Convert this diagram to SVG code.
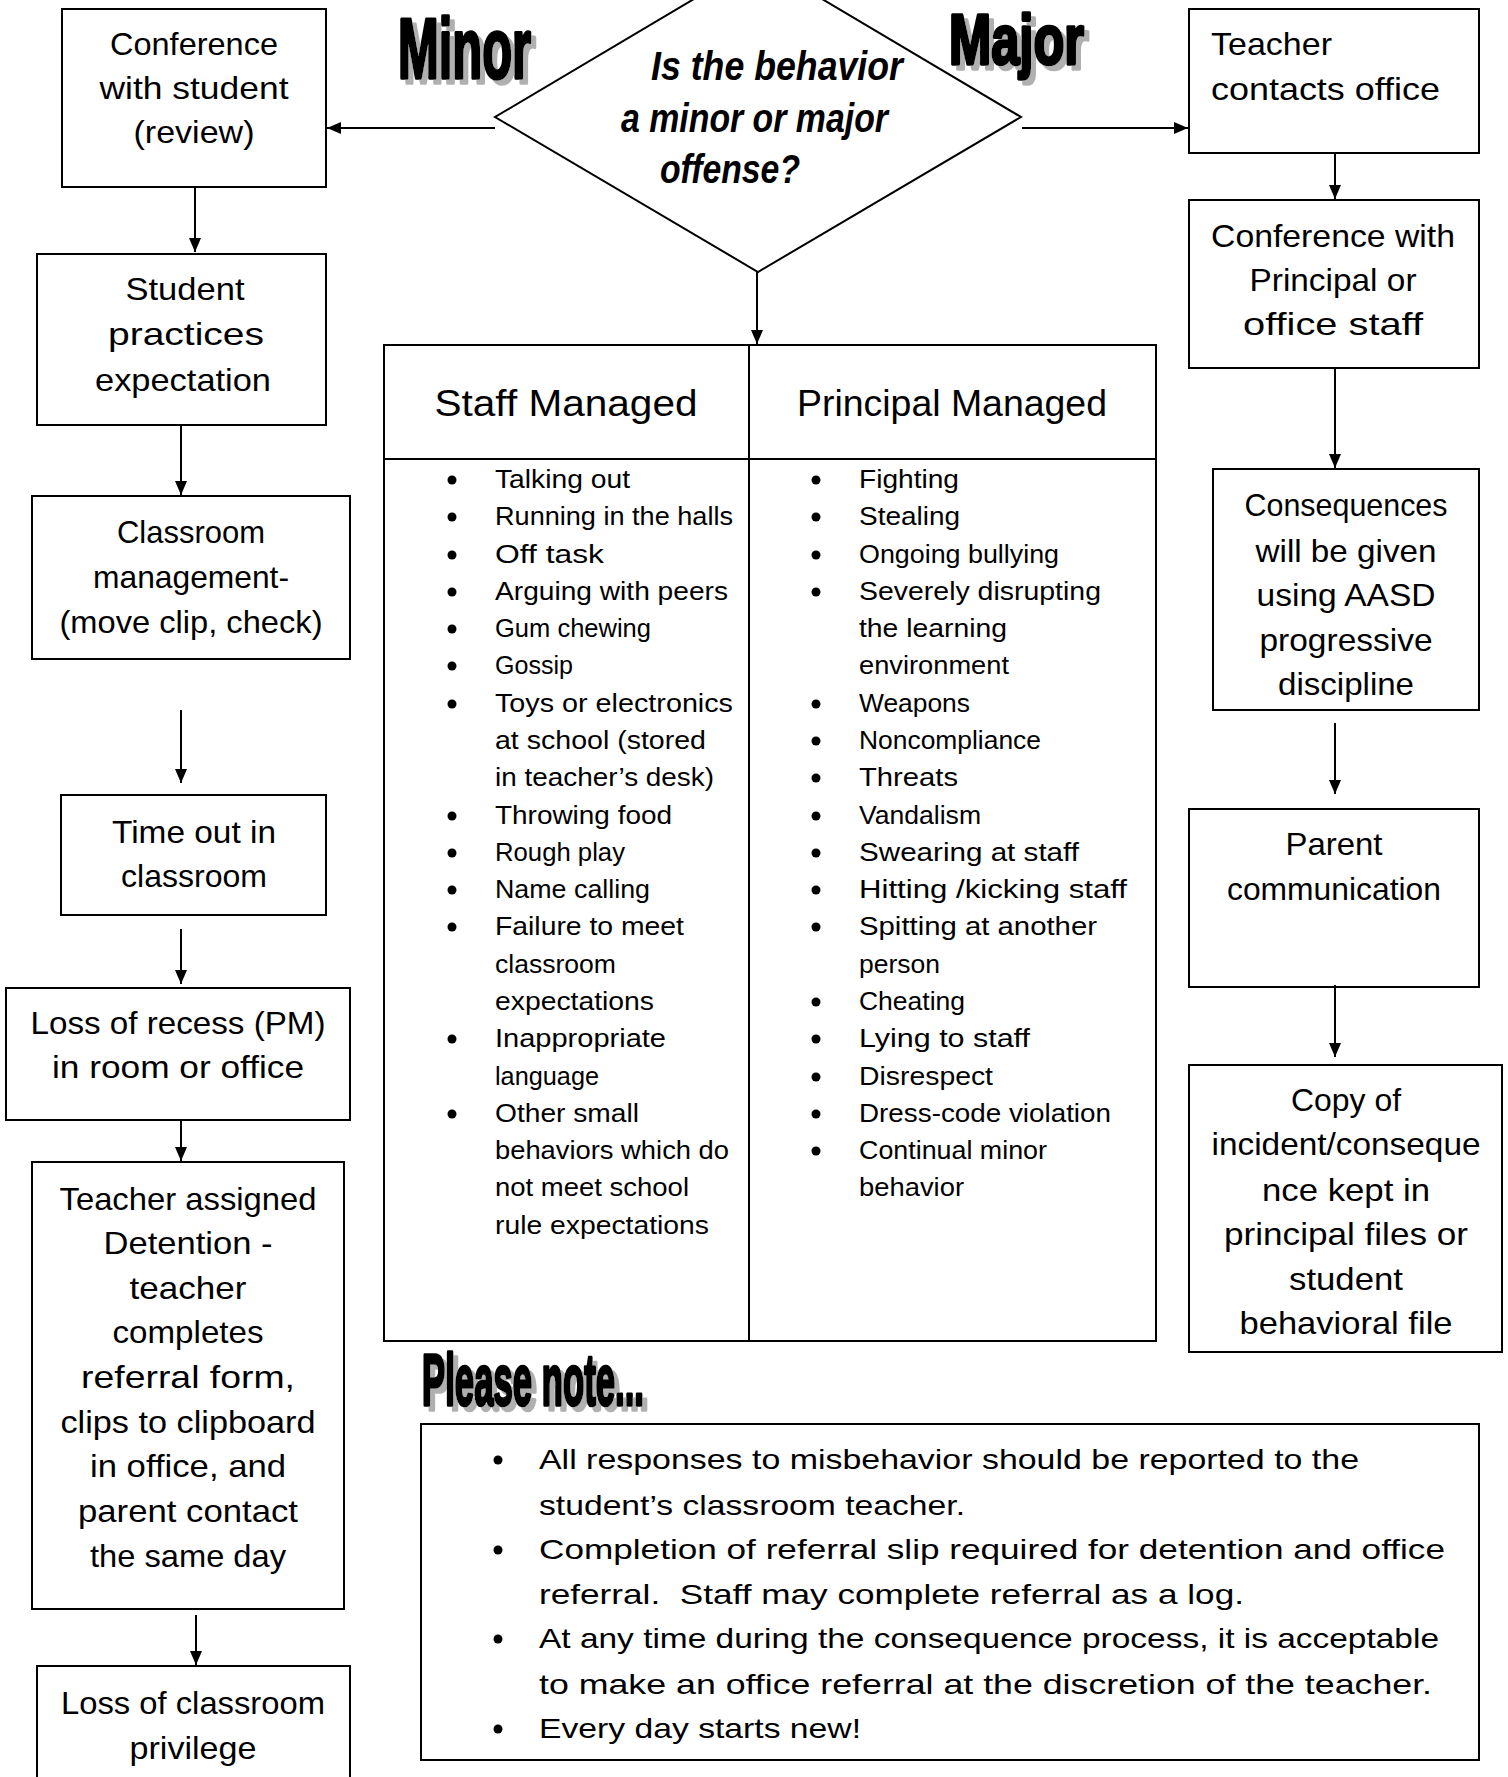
<svg xmlns="http://www.w3.org/2000/svg" width="1508" height="1777" viewBox="0 0 1508 1777">
<style>
.box{fill:#fff;stroke:#000;stroke-width:2}
.t{font-family:"Liberation Sans",Arial,sans-serif;fill:#000}
.c{text-anchor:middle}
.b32{font-size:32px}
.b25{font-size:25px}
.b28{font-size:28px}
.h36{font-size:36px}
.q{font-family:"Liberation Sans",Arial,sans-serif;font-size:40px;font-weight:bold;font-style:italic;fill:#000}
.ttl{font-family:"Liberation Sans",Arial,sans-serif;font-weight:bold;fill:#000;stroke:#000;stroke-width:3.5;stroke-linejoin:round;filter:url(#shadow)}
.con{stroke:#000;stroke-width:2;fill:none;marker-end:url(#ah)}
.dot{fill:#000}
</style>
<defs>
<marker id="ah" viewBox="0 0 14 12" markerWidth="14" markerHeight="12" markerUnits="userSpaceOnUse" refX="14" refY="6" orient="auto">
<path d="M0,0 L14,6 L0,12 z" fill="#000"/>
</marker>
<filter id="shadow" x="-10%" y="-10%" width="130%" height="140%">
<feOffset in="SourceAlpha" dx="5" dy="5" result="off"/>
<feFlood flood-color="#b0b0b0"/>
<feComposite in2="off" operator="in" result="sh"/>
<feMerge><feMergeNode in="sh"/><feMergeNode in="SourceGraphic"/></feMerge>
</filter>
</defs>
<rect width="1508" height="1777" fill="#fff"/>

<!-- titles -->
<g id="title-minor">
<text class="ttl" x="398" y="78" font-size="86" textLength="133" lengthAdjust="spacingAndGlyphs">Minor</text>
</g>
<g id="title-major">
<text class="ttl" x="949" y="64" font-size="70" textLength="135" lengthAdjust="spacingAndGlyphs">Major</text>
</g>
<g id="title-note">
<text class="ttl" x="422" y="1405" font-size="72" textLength="222" lengthAdjust="spacingAndGlyphs">Please note...</text>
</g>

<!-- decision -->
<g id="decision">
<polygon class="box" points="758,-39 1021,117 758,272 495,117"/>
<text class="q" x="651" y="80" textLength="252" lengthAdjust="spacingAndGlyphs">Is the behavior</text>
<text class="q" x="621" y="132" textLength="267" lengthAdjust="spacingAndGlyphs">a minor or major</text>
<text class="q" x="660" y="183" textLength="140" lengthAdjust="spacingAndGlyphs">offense?</text>
</g>

<!-- left column -->
<g id="conference-student">
<rect class="box" x="62" y="9" width="264" height="178"/>
<text class="t b32 c" x="194" y="55" textLength="168" lengthAdjust="spacingAndGlyphs">Conference</text>
<text class="t b32 c" x="194" y="99" textLength="189" lengthAdjust="spacingAndGlyphs">with student</text>
<text class="t b32 c" x="194" y="143" textLength="121" lengthAdjust="spacingAndGlyphs">(review)</text>
</g>
<g id="student-practices">
<rect class="box" x="37" y="254" width="289" height="171"/>
<text class="t b32 c" x="185" y="300" textLength="119" lengthAdjust="spacingAndGlyphs">Student</text>
<text class="t b32 c" x="186" y="345" textLength="156" lengthAdjust="spacingAndGlyphs">practices</text>
<text class="t b32 c" x="183" y="391" textLength="176" lengthAdjust="spacingAndGlyphs">expectation</text>
</g>
<g id="classroom-management">
<rect class="box" x="32" y="496" width="318" height="163"/>
<text class="t b32 c" x="191" y="543" textLength="148" lengthAdjust="spacingAndGlyphs">Classroom</text>
<text class="t b32 c" x="191" y="588" textLength="196" lengthAdjust="spacingAndGlyphs">management-</text>
<text class="t b32 c" x="191" y="633" textLength="263" lengthAdjust="spacingAndGlyphs">(move clip, check)</text>
</g>
<g id="time-out">
<rect class="box" x="61" y="795" width="265" height="120"/>
<text class="t b32 c" x="194" y="843" textLength="164" lengthAdjust="spacingAndGlyphs">Time out in</text>
<text class="t b32 c" x="194" y="887" textLength="146" lengthAdjust="spacingAndGlyphs">classroom</text>
</g>
<g id="loss-recess">
<rect class="box" x="6" y="988" width="344" height="132"/>
<text class="t b32 c" x="178" y="1034" textLength="295" lengthAdjust="spacingAndGlyphs">Loss of recess (PM)</text>
<text class="t b32 c" x="178" y="1078" textLength="252" lengthAdjust="spacingAndGlyphs">in room or office</text>
</g>
<g id="detention">
<rect class="box" x="32" y="1162" width="312" height="447"/>
<text class="t b32 c" x="188" y="1210" textLength="257" lengthAdjust="spacingAndGlyphs">Teacher assigned</text>
<text class="t b32 c" x="188" y="1254" textLength="169" lengthAdjust="spacingAndGlyphs">Detention -</text>
<text class="t b32 c" x="188" y="1299" textLength="117" lengthAdjust="spacingAndGlyphs">teacher</text>
<text class="t b32 c" x="188" y="1343" textLength="151" lengthAdjust="spacingAndGlyphs">completes</text>
<text class="t b32 c" x="188" y="1388" textLength="214" lengthAdjust="spacingAndGlyphs">referral form,</text>
<text class="t b32 c" x="188" y="1433" textLength="255" lengthAdjust="spacingAndGlyphs">clips to clipboard</text>
<text class="t b32 c" x="188" y="1477" textLength="196" lengthAdjust="spacingAndGlyphs">in office, and</text>
<text class="t b32 c" x="188" y="1522" textLength="220" lengthAdjust="spacingAndGlyphs">parent contact</text>
<text class="t b32 c" x="188" y="1567" textLength="196" lengthAdjust="spacingAndGlyphs">the same day</text>
</g>
<g id="loss-privilege">
<rect class="box" x="37" y="1666" width="313" height="130"/>
<text class="t b32 c" x="193" y="1714" textLength="264" lengthAdjust="spacingAndGlyphs">Loss of classroom</text>
<text class="t b32 c" x="193" y="1759" textLength="127" lengthAdjust="spacingAndGlyphs">privilege</text>
</g>

<!-- right column -->
<g id="teacher-contacts">
<rect class="box" x="1189" y="9" width="290" height="144"/>
<text class="t b32" x="1211" y="55" textLength="121" lengthAdjust="spacingAndGlyphs">Teacher</text>
<text class="t b32" x="1211" y="100" textLength="229" lengthAdjust="spacingAndGlyphs">contacts office</text>
</g>
<g id="conference-principal">
<rect class="box" x="1189" y="200" width="290" height="168"/>
<text class="t b32 c" x="1333" y="247" textLength="244" lengthAdjust="spacingAndGlyphs">Conference with</text>
<text class="t b32 c" x="1333" y="291" textLength="167" lengthAdjust="spacingAndGlyphs">Principal or</text>
<text class="t b32 c" x="1333" y="335" textLength="180" lengthAdjust="spacingAndGlyphs">office staff</text>
</g>
<g id="consequences">
<rect class="box" x="1213" y="469" width="266" height="241"/>
<text class="t b32 c" x="1346" y="516" textLength="203" lengthAdjust="spacingAndGlyphs">Consequences</text>
<text class="t b32 c" x="1346" y="562" textLength="181" lengthAdjust="spacingAndGlyphs">will be given</text>
<text class="t b32 c" x="1346" y="606" textLength="179" lengthAdjust="spacingAndGlyphs">using AASD</text>
<text class="t b32 c" x="1346" y="651" textLength="173" lengthAdjust="spacingAndGlyphs">progressive</text>
<text class="t b32 c" x="1346" y="695" textLength="136" lengthAdjust="spacingAndGlyphs">discipline</text>
</g>
<g id="parent-communication">
<rect class="box" x="1189" y="809" width="290" height="178"/>
<text class="t b32 c" x="1334" y="855" textLength="97" lengthAdjust="spacingAndGlyphs">Parent</text>
<text class="t b32 c" x="1334" y="900" textLength="214" lengthAdjust="spacingAndGlyphs">communication</text>
</g>
<g id="copy-incident">
<rect class="box" x="1189" y="1065" width="313" height="287"/>
<text class="t b32 c" x="1346" y="1111" textLength="110" lengthAdjust="spacingAndGlyphs">Copy of</text>
<text class="t b32 c" x="1346" y="1155" textLength="269" lengthAdjust="spacingAndGlyphs">incident/conseque</text>
<text class="t b32 c" x="1346" y="1201" textLength="168" lengthAdjust="spacingAndGlyphs">nce kept in</text>
<text class="t b32 c" x="1346" y="1245" textLength="244" lengthAdjust="spacingAndGlyphs">principal files or</text>
<text class="t b32 c" x="1346" y="1290" textLength="114" lengthAdjust="spacingAndGlyphs">student</text>
<text class="t b32 c" x="1346" y="1334" textLength="213" lengthAdjust="spacingAndGlyphs">behavioral file</text>
</g>

<!-- table -->
<g id="behavior-table">
<rect class="box" x="384" y="345" width="772" height="996"/>
<line x1="749" y1="345" x2="749" y2="1341" stroke="#000" stroke-width="2"/>
<line x1="384" y1="459" x2="1156" y2="459" stroke="#000" stroke-width="2"/>
<text class="t h36 c" x="566" y="416" textLength="263" lengthAdjust="spacingAndGlyphs">Staff Managed</text>
<text class="t h36 c" x="952" y="416" textLength="310" lengthAdjust="spacingAndGlyphs">Principal Managed</text>
<g id="staff-list">
<circle class="dot" cx="452" cy="480" r="4.5"/><text class="t b25" x="495" y="488" textLength="135" lengthAdjust="spacingAndGlyphs">Talking out</text>
<circle class="dot" cx="452" cy="517" r="4.5"/><text class="t b25" x="495" y="525" textLength="238" lengthAdjust="spacingAndGlyphs">Running in the halls</text>
<circle class="dot" cx="452" cy="555" r="4.5"/><text class="t b25" x="495" y="563" textLength="109" lengthAdjust="spacingAndGlyphs">Off task</text>
<circle class="dot" cx="452" cy="592" r="4.5"/><text class="t b25" x="495" y="600" textLength="233" lengthAdjust="spacingAndGlyphs">Arguing with peers</text>
<circle class="dot" cx="452" cy="629" r="4.5"/><text class="t b25" x="495" y="637" textLength="156" lengthAdjust="spacingAndGlyphs">Gum chewing</text>
<circle class="dot" cx="452" cy="666" r="4.5"/><text class="t b25" x="495" y="674" textLength="78" lengthAdjust="spacingAndGlyphs">Gossip</text>
<circle class="dot" cx="452" cy="704" r="4.5"/><text class="t b25" x="495" y="712" textLength="238" lengthAdjust="spacingAndGlyphs">Toys or electronics</text>
<text class="t b25" x="495" y="749" textLength="211" lengthAdjust="spacingAndGlyphs">at school (stored</text>
<text class="t b25" x="495" y="786" textLength="219" lengthAdjust="spacingAndGlyphs">in teacher’s desk)</text>
<circle class="dot" cx="452" cy="816" r="4.5"/><text class="t b25" x="495" y="824" textLength="177" lengthAdjust="spacingAndGlyphs">Throwing food</text>
<circle class="dot" cx="452" cy="853" r="4.5"/><text class="t b25" x="495" y="861" textLength="130" lengthAdjust="spacingAndGlyphs">Rough play</text>
<circle class="dot" cx="452" cy="890" r="4.5"/><text class="t b25" x="495" y="898" textLength="155" lengthAdjust="spacingAndGlyphs">Name calling</text>
<circle class="dot" cx="452" cy="927" r="4.5"/><text class="t b25" x="495" y="935" textLength="189" lengthAdjust="spacingAndGlyphs">Failure to meet</text>
<text class="t b25" x="495" y="973" textLength="121" lengthAdjust="spacingAndGlyphs">classroom</text>
<text class="t b25" x="495" y="1010" textLength="159" lengthAdjust="spacingAndGlyphs">expectations</text>
<circle class="dot" cx="452" cy="1039" r="4.5"/><text class="t b25" x="495" y="1047" textLength="171" lengthAdjust="spacingAndGlyphs">Inappropriate</text>
<text class="t b25" x="495" y="1085" textLength="104" lengthAdjust="spacingAndGlyphs">language</text>
<circle class="dot" cx="452" cy="1114" r="4.5"/><text class="t b25" x="495" y="1122" textLength="144" lengthAdjust="spacingAndGlyphs">Other small</text>
<text class="t b25" x="495" y="1159" textLength="234" lengthAdjust="spacingAndGlyphs">behaviors which do</text>
<text class="t b25" x="495" y="1196" textLength="194" lengthAdjust="spacingAndGlyphs">not meet school</text>
<text class="t b25" x="495" y="1234" textLength="214" lengthAdjust="spacingAndGlyphs">rule expectations</text>
</g>
<g id="principal-list">
<circle class="dot" cx="816" cy="480" r="4.5"/><text class="t b25" x="859" y="488" textLength="100" lengthAdjust="spacingAndGlyphs">Fighting</text>
<circle class="dot" cx="816" cy="517" r="4.5"/><text class="t b25" x="859" y="525" textLength="101" lengthAdjust="spacingAndGlyphs">Stealing</text>
<circle class="dot" cx="816" cy="555" r="4.5"/><text class="t b25" x="859" y="563" textLength="200" lengthAdjust="spacingAndGlyphs">Ongoing bullying</text>
<circle class="dot" cx="816" cy="592" r="4.5"/><text class="t b25" x="859" y="600" textLength="242" lengthAdjust="spacingAndGlyphs">Severely disrupting</text>
<text class="t b25" x="859" y="637" textLength="148" lengthAdjust="spacingAndGlyphs">the learning</text>
<text class="t b25" x="859" y="674" textLength="150" lengthAdjust="spacingAndGlyphs">environment</text>
<circle class="dot" cx="816" cy="704" r="4.5"/><text class="t b25" x="859" y="712" textLength="111" lengthAdjust="spacingAndGlyphs">Weapons</text>
<circle class="dot" cx="816" cy="741" r="4.5"/><text class="t b25" x="859" y="749" textLength="182" lengthAdjust="spacingAndGlyphs">Noncompliance</text>
<circle class="dot" cx="816" cy="778" r="4.5"/><text class="t b25" x="859" y="786" textLength="99" lengthAdjust="spacingAndGlyphs">Threats</text>
<circle class="dot" cx="816" cy="816" r="4.5"/><text class="t b25" x="859" y="824" textLength="122" lengthAdjust="spacingAndGlyphs">Vandalism</text>
<circle class="dot" cx="816" cy="853" r="4.5"/><text class="t b25" x="859" y="861" textLength="220" lengthAdjust="spacingAndGlyphs">Swearing at staff</text>
<circle class="dot" cx="816" cy="890" r="4.5"/><text class="t b25" x="859" y="898" textLength="268" lengthAdjust="spacingAndGlyphs">Hitting /kicking staff</text>
<circle class="dot" cx="816" cy="927" r="4.5"/><text class="t b25" x="859" y="935" textLength="238" lengthAdjust="spacingAndGlyphs">Spitting at another</text>
<text class="t b25" x="859" y="973" textLength="81" lengthAdjust="spacingAndGlyphs">person</text>
<circle class="dot" cx="816" cy="1002" r="4.5"/><text class="t b25" x="859" y="1010" textLength="106" lengthAdjust="spacingAndGlyphs">Cheating</text>
<circle class="dot" cx="816" cy="1039" r="4.5"/><text class="t b25" x="859" y="1047" textLength="171" lengthAdjust="spacingAndGlyphs">Lying to staff</text>
<circle class="dot" cx="816" cy="1077" r="4.5"/><text class="t b25" x="859" y="1085" textLength="134" lengthAdjust="spacingAndGlyphs">Disrespect</text>
<circle class="dot" cx="816" cy="1114" r="4.5"/><text class="t b25" x="859" y="1122" textLength="252" lengthAdjust="spacingAndGlyphs">Dress-code violation</text>
<circle class="dot" cx="816" cy="1151" r="4.5"/><text class="t b25" x="859" y="1159" textLength="188" lengthAdjust="spacingAndGlyphs">Continual minor</text>
<text class="t b25" x="859" y="1196" textLength="105" lengthAdjust="spacingAndGlyphs">behavior</text>
</g>
</g>

<!-- note box -->
<g id="note-box">
<rect class="box" x="421" y="1424" width="1058" height="336"/>
<circle class="dot" cx="498" cy="1460" r="4.5"/><text class="t b28" x="539" y="1469" textLength="820" lengthAdjust="spacingAndGlyphs">All responses to misbehavior should be reported to the</text>
<text class="t b28" x="539" y="1515" textLength="426" lengthAdjust="spacingAndGlyphs">student’s classroom teacher.</text>
<circle class="dot" cx="498" cy="1550" r="4.5"/><text class="t b28" x="539" y="1559" textLength="906" lengthAdjust="spacingAndGlyphs">Completion of referral slip required for detention and office</text>
<text class="t b28" x="539" y="1604" textLength="705" lengthAdjust="spacingAndGlyphs" style="white-space:pre">referral.  Staff may complete referral as a log.</text>
<circle class="dot" cx="498" cy="1639" r="4.5"/><text class="t b28" x="539" y="1648" textLength="900" lengthAdjust="spacingAndGlyphs">At any time during the consequence process, it is acceptable</text>
<text class="t b28" x="539" y="1694" textLength="893" lengthAdjust="spacingAndGlyphs">to make an office referral at the discretion of the teacher.</text>
<circle class="dot" cx="498" cy="1729" r="4.5"/><text class="t b28" x="539" y="1738" textLength="322" lengthAdjust="spacingAndGlyphs">Every day starts new!</text>
</g>

<!-- connectors -->
<g id="connectors">
<line class="con" x1="495" y1="128" x2="327" y2="128"/>
<line class="con" x1="1022" y1="128" x2="1188" y2="128"/>
<line class="con" x1="757" y1="272" x2="757" y2="344"/>
<line class="con" x1="195" y1="187" x2="195" y2="252"/>
<line class="con" x1="181" y1="425" x2="181" y2="495"/>
<line class="con" x1="181" y1="710" x2="181" y2="783"/>
<line class="con" x1="181" y1="929" x2="181" y2="984"/>
<line class="con" x1="181" y1="1120" x2="181" y2="1161"/>
<line class="con" x1="196" y1="1615" x2="196" y2="1665"/>
<line class="con" x1="1335" y1="153" x2="1335" y2="199"/>
<line class="con" x1="1335" y1="368" x2="1335" y2="468"/>
<line class="con" x1="1335" y1="723" x2="1335" y2="794"/>
<line class="con" x1="1335" y1="985" x2="1335" y2="1057"/>
</g>
</svg>
